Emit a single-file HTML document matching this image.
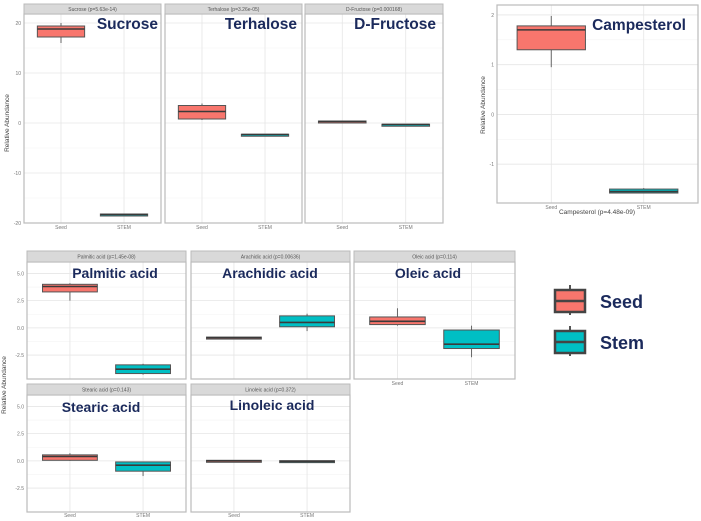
<!DOCTYPE html>
<html><head><meta charset="utf-8"><style>
body{margin:0;background:#fff;width:701px;height:521px;overflow:hidden}
svg{display:block;font-family:"Liberation Sans",sans-serif}
</style></head><body>
<svg id="c" width="701" height="521"></svg>
<script>
const groups = ["Seed","STEM"];
const panelNames = ["Sucrose","Terhalose","D-Fructose","Campesterol","Palmitic acid","Arachidic acid","Oleic acid","Stearic acid","Linoleic acid"];
const stripLabels = ["Sucrose (p=5.63e-14)","Terhalose (p=3.26e-05)","D-Fructose (p=0.000168)","Campesterol (p=4.48e-09)","Palmitic acid (p=1.45e-08)","Arachidic acid (p=0.00636)","Oleic acid (p=0.114)","Stearic acid (p=0.143)","Linoleic acid (p=0.372)"];
// [whiskerLow, q1, median, q3, whiskerHigh] for Seed and STEM
const seedStats = [[16,17.2,18.8,19.4,20],[0.6,0.8,2.3,3.5,3.9],[0.1,0.1,0.3,0.4,0.4],[0.95,1.3,1.7,1.78,1.98],[2.5,3.3,3.8,4.0,4.1],[-0.9,-0.95,-0.9,-0.85,-0.85],[0.2,0.3,0.6,1.0,1.8],[0,0.05,0.4,0.55,0.7],[0,-0.05,0,0.05,0.05]];
const stemStats = [[-18.3,-18.4,-18.3,-18.2,-18.2],[-2.3,-2.35,-2.3,-2.25,-2.25],[-0.3,-0.35,-0.3,-0.25,-0.25],[-1.5,-1.58,-1.55,-1.5,-1.48],[-4.3,-4.2,-3.8,-3.4,-3.3],[-0.3,0.1,0.5,1.1,1.3],[-2.7,-1.9,-1.5,-0.2,0.2],[-1.4,-0.95,-0.4,-0.1,-0.1],[-0.1,-0.12,-0.05,0.02,0.02]];
const topTicks = [20,10,0,-10,-20];
const topTickLabels = ["20","10","0","-10","-20"];
const campTicks = [2,1,0,-1];
const campTickLabels = ["2","1","0","-1"];
const fatTicks = [5,2.5,0,-2.5];
const fatTickLabels = ["5.0","2.5","0.0","-2.5"];

const NS="http://www.w3.org/2000/svg", svg=document.getElementById('c');
function el(t,a,p){const e=document.createElementNS(NS,t);for(const k in a)e.setAttribute(k,a[k]);(p||svg).appendChild(e);return e;}
function txt(s,a,p){const e=el('text',a,p);e.textContent=s;return e;}

// panel layouts: x0,x1,plotTop,plotBottom, ymin,ymax, ticks idx, strip?, title pos
const layout = [
 {x0:24,x1:161,top:14,bot:223,ymin:-20,ymax:21.8,t:0,strip:true,axis:true,tx:158,ty:29,xl:229},
 {x0:165,x1:302,top:14,bot:223,ymin:-20,ymax:21.8,t:0,strip:true,axis:false,tx:297,ty:29,xl:229},
 {x0:305,x1:443,top:14,bot:223,ymin:-20,ymax:21.8,t:0,strip:true,axis:false,tx:436,ty:29,xl:229},
 {x0:497,x1:698,top:5,bot:203,ymin:-1.78,ymax:2.2,t:1,strip:false,axis:true,tx:686,ty:30,xl:209},
 {x0:27,x1:186,top:262,bot:379,ymin:-4.7,ymax:6.05,t:2,strip:true,axis:true,tx:115,ty:278,xl:null},
 {x0:191,x1:350,top:262,bot:379,ymin:-4.7,ymax:6.05,t:2,strip:true,axis:false,tx:270,ty:278,xl:null},
 {x0:354,x1:515,top:262,bot:379,ymin:-4.7,ymax:6.05,t:2,strip:true,axis:false,tx:428,ty:278,xl:385},
 {x0:27,x1:186,top:395,bot:512,ymin:-4.7,ymax:6.05,t:2,strip:true,axis:true,tx:101,ty:412,xl:517},
 {x0:191,x1:350,top:395,bot:512,ymin:-4.7,ymax:6.05,t:2,strip:true,axis:false,tx:272,ty:410,xl:517}
];
const tickSets=[[topTicks,topTickLabels],[campTicks,campTickLabels],[fatTicks,fatTickLabels]];
const colors=["#f8766d","#00bfc4"];

layout.forEach((L,i)=>{
  const g=el('g',{});
  
  
  const w=L.x1-L.x0;
  const y=v=>L.bot-(v-L.ymin)/(L.ymax-L.ymin)*(L.bot-L.top);
  const xs=[L.x0+w*0.27,L.x0+w*0.73];
  const bw=w*(i==3?0.34:0.345);
  const [ticks,labels]=tickSets[L.t];
  // minor grid
  for(let k=0;k<ticks.length-1;k++){const m=(ticks[k]+ticks[k+1])/2;el('line',{x1:L.x0,x2:L.x1,y1:y(m),y2:y(m),stroke:'#f3f3f3','stroke-width':0.6},g);}
  ticks.forEach((t,k)=>{
    el('line',{x1:L.x0,x2:L.x1,y1:y(t),y2:y(t),stroke:'#e6e6e6','stroke-width':0.8},g);
    if(L.axis){const tl=txt(labels[k],{x:L.x0-3,y:y(t)+2,'font-size':5,fill:'#777','text-anchor':'end'},g);
      }
  });
  xs.forEach(x=>el('line',{x1:x,x2:x,y1:L.top,y2:L.bot,stroke:'#e6e6e6','stroke-width':0.8},g));
  el('rect',{x:L.x0,y:L.top,width:w,height:L.bot-L.top,fill:'none',stroke:'#bbb','stroke-width':1.2},g);
  if(L.strip){
    const sh=i<3?10:11;
    el('rect',{x:L.x0,y:L.top-sh,width:w,height:sh,fill:'#d9d9d9',stroke:'#bbb','stroke-width':1},g);
    const st=txt(stripLabels[i],{x:L.x0+w/2,y:L.top-sh/2+2,'font-size':5,fill:'#555','text-anchor':'middle'},g);
    
  }
  [seedStats[i],stemStats[i]].forEach((s,j)=>{
    const b=el('g',{},g);
    
    
    el('line',{x1:xs[j],x2:xs[j],y1:y(s[0]),y2:y(s[4]),stroke:'#666','stroke-width':1},b);
    const h=Math.max(2,y(s[1])-y(s[3]));
    el('rect',{x:xs[j]-bw/2,y:y(s[3]),width:bw,height:h,fill:colors[j],stroke:'#555','stroke-width':1},b);
    el('line',{x1:xs[j]-bw/2,x2:xs[j]+bw/2,y1:y(s[2]),y2:y(s[2]),stroke:'#3a3a3a','stroke-width':1.6},b);
  });
  if(L.xl){groups.forEach((gname,j)=>{const xl=txt(gname,{x:xs[j],y:L.xl,'font-size':5,fill:'#777','text-anchor':'middle'},g);
    });}
  const tt=txt(panelNames[i],{x:L.tx,y:L.ty,'font-size':i<4?15.5:14,'font-weight':'bold',fill:'#1b2a5c','text-anchor':(i<4?'end':'middle')},g);
  
});
// axis titles
[[9,123],[485,105],[6,385]].forEach(p=>{
  const t=txt('Relative Abundance',{x:0,y:0,'font-size':6.5,fill:'#444','text-anchor':'middle',transform:`translate(${p[0]},${p[1]}) rotate(-90)`});
  
});
const cx=txt('Campesterol (p=4.48e-09)',{x:597,y:214,'font-size':6.5,fill:'#444','text-anchor':'middle'});

// legend
[["Seed",colors[0],300],["Stem",colors[1],341]].forEach(d=>{
  const g=el('g',{});
  
  
  el('line',{x1:570,x2:570,y1:d[2]-15,y2:d[2]+15,stroke:'#555','stroke-width':2},g);
  el('rect',{x:555,y:d[2]-10,width:30,height:22,fill:d[1],stroke:'#444','stroke-width':2.5},g);
  el('line',{x1:555,x2:585,y1:d[2]+1,y2:d[2]+1,stroke:'#444','stroke-width':2.5},g);
  txt(d[0],{x:600,y:d[2]+8,'font-size':18,'font-weight':'bold',fill:'#1b2a5c'},g);
});
</script>
</body></html>
